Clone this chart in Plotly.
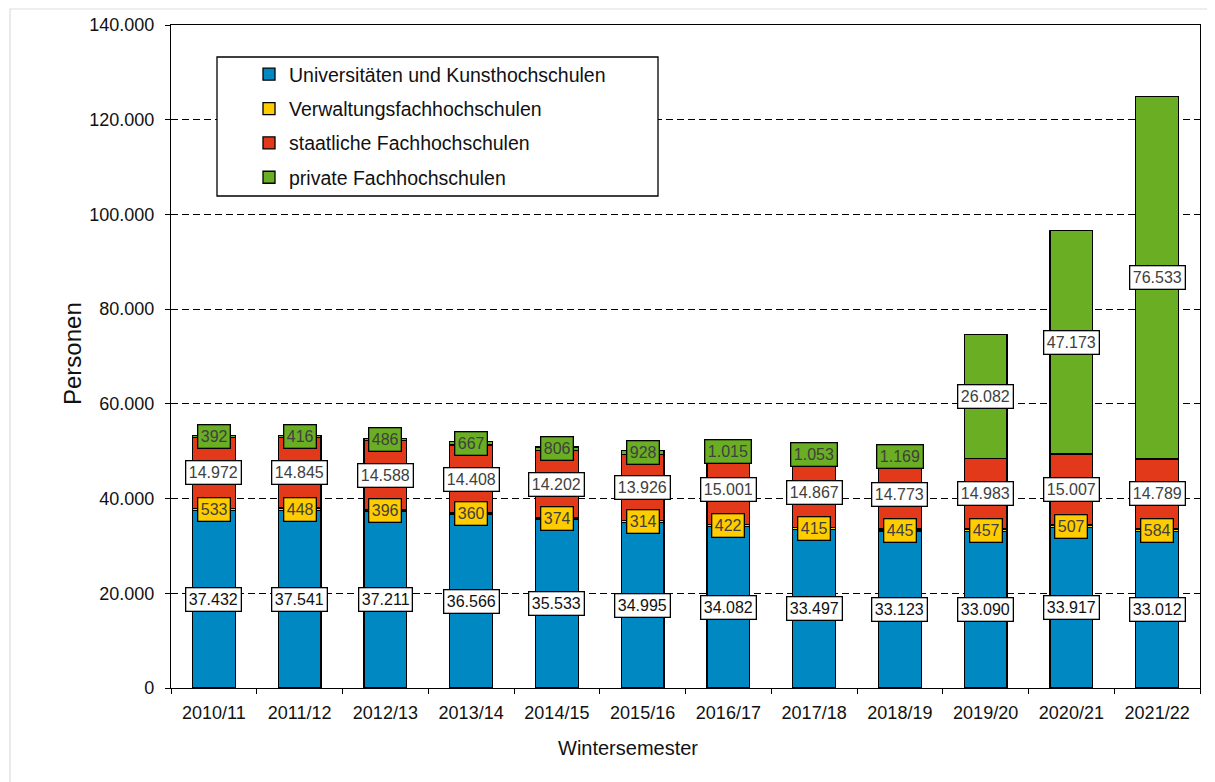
import plotly.graph_objects as go

semesters = ["2010/11", "2011/12", "2012/13", "2013/14", "2014/15", "2015/16",
             "2016/17", "2017/18", "2018/19", "2019/20", "2020/21", "2021/22"]
uni = [37432, 37541, 37211, 36566, 35533, 34995, 34082, 33497, 33123, 33090, 33917, 33012]
verwaltung = [533, 448, 396, 360, 374, 314, 422, 415, 445, 457, 507, 584]
staatlich = [14972, 14845, 14588, 14408, 14202, 13926, 15001, 14867, 14773, 14983, 15007, 14789]
privat = [392, 416, 486, 667, 806, 928, 1015, 1053, 1169, 26082, 47173, 76533]

series = [
    ("Universitäten und Kunsthochschulen", uni, "#0088C2"),
    ("Verwaltungsfachhochschulen", verwaltung, "#FFCC00"),
    ("staatliche Fachhochschulen", staatlich, "#E3391B"),
    ("private Fachhochschulen", privat, "#6AAE23"),
]

FONT = "Liberation Sans, Arial, sans-serif"
PW = 1029.0  # plot width in px
PH = 663.0   # plot height in px


def de(v):
    return f"{v:,}".replace(",", ".")


fig = go.Figure()
for i, (name, vals, col) in enumerate(series):
    fig.add_trace(go.Bar(
        x=semesters, y=vals, name=name, legendgroup=f"g{i}",
        marker=dict(color=col, line=dict(color="black", width=1.3)),
        hoverinfo="skip",
    ))

annotations = []
base = [0] * len(semesters)
for si, (name, vals, col) in enumerate(series):
    for j, v in enumerate(vals):
        center = base[j] + v / 2
        if si == 0:
            bg, fc = "white", "#111111"
        elif si == 1:
            bg, fc = col, "#404040"
        elif si == 2:
            bg, fc = "white", "#404040"
        else:
            bg, fc = (col if v < 5000 else "white"), "#404040"
        annotations.append(dict(
            x=semesters[j], y=center, xref="x", yref="y", text=de(v),
            showarrow=False, font=dict(family=FONT, size=16, color=fc),
            bgcolor=bg, bordercolor="black", borderwidth=1.3, borderpad=2.5,
        ))
        base[j] += v

annotations.append(dict(x=(628 - 171) / PW, y=(688 - 748) / PH, xref="paper", yref="paper",
                        xanchor="center", yanchor="middle",
                        text="Wintersemester", showarrow=False,
                        font=dict(family=FONT, size=20, color="#111111")))
annotations.append(dict(x=(72 - 171) / PW, y=(688 - 354) / PH, xref="paper", yref="paper",
                        xanchor="center", yanchor="middle",
                        text="Personen", textangle=-90, showarrow=False,
                        font=dict(family=FONT, size=24, color="#111111")))

shapes = [
    # outer light frame
    dict(type="rect", xref="paper", yref="paper",
         x0=(10 - 171) / PW, x1=(1240 - 171) / PW,
         y0=(688 - 800) / PH, y1=(688 - 9) / PH,
         line=dict(color="#DDDDDD", width=1.2), fillcolor="rgba(0,0,0,0)", layer="below"),
    # legend box
    dict(type="rect", xref="paper", yref="paper",
         x0=(217 - 171) / PW, x1=(658 - 171) / PW,
         y0=(688 - 196) / PH, y1=(688 - 57) / PH,
         line=dict(color="black", width=1.3), fillcolor="white", layer="above"),
]

fig.update_layout(
    width=1207, height=774,
    margin=dict(l=163, r=15, t=17, b=94, autoexpand=False),
    paper_bgcolor="white", plot_bgcolor="white",
    barmode="stack", bargap=0.5,
    separators=",.",
    font=dict(family=FONT, size=18, color="#111111"),
    showlegend=True,
    legend=dict(
        x=(249 - 171) / PW, y=(688 - 55) / PH, xanchor="left", yanchor="top",
        traceorder="grouped", tracegroupgap=6,
        font=dict(family=FONT, size=19.5, color="#111111"),
        bgcolor="rgba(0,0,0,0)", borderwidth=0,
    ),
    annotations=annotations,
    shapes=shapes,
)

fig.update_xaxes(
    type="category", showline=True, linecolor="black", linewidth=1.3, mirror=True,
    ticks="outside", ticklen=5, tickcolor="black", tickwidth=1.3,
    tickson="boundaries", showgrid=False, ticklabelstandoff=8, automargin=False,
    tickfont=dict(family=FONT, size=18, color="#111111"),
)
fig.update_yaxes(
    range=[0, 140000], dtick=20000, tickformat=",d",
    showline=True, linecolor="black", linewidth=1.3, mirror=True,
    ticks="outside", ticklen=5, tickcolor="black", tickwidth=1.3,
    showgrid=True, gridcolor="black", gridwidth=1.3, griddash="7px,4px",
    zeroline=False, ticklabelstandoff=7, automargin=False,
    tickfont=dict(family=FONT, size=18, color="#111111"),
)

fig.write_html("out.html")
